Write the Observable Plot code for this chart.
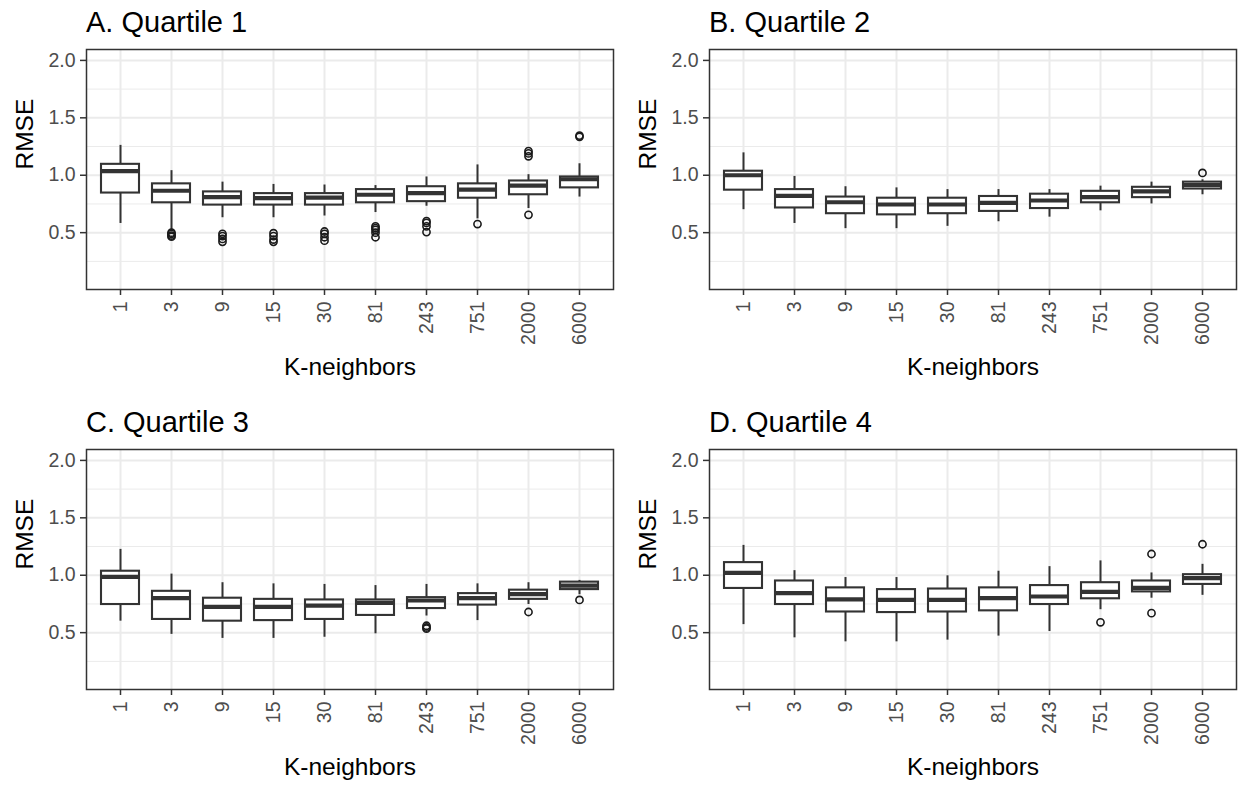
<!DOCTYPE html>
<html>
<head>
<meta charset="utf-8">
<script src="https://cdn.jsdelivr.net/npm/d3@7"></script>
<script src="https://cdn.jsdelivr.net/npm/@observablehq/plot@0.6"></script>
<style>
  body { margin: 0; background: #fff; overflow: hidden; }
  #chart { position: relative; width: 1238px; height: 785px; overflow: hidden;
           font-family: "Liberation Sans", Arial, Helvetica, sans-serif; background: #fff; }
  .panel { position: absolute; width: 623px; height: 400px; }
  .panel svg { max-width: none !important; }
  .title { position: absolute; font-size: 29px; line-height: 1; color: #000; white-space: nowrap; }
</style>
</head>
<body>
<div id="chart"></div>
<script>
// Number of nearest neighbours (x categories)
const kNeighbors = ["1", "3", "9", "15", "30", "81", "243", "751", "2000", "6000"];
const panelTitles = ["A. Quartile 1", "B. Quartile 2", "C. Quartile 3", "D. Quartile 4"];
const yTicks = [0.5, 1.0, 1.5, 2.0];
const yMinorTicks = [0.25, 0.75, 1.25, 1.75];

// Box summaries per K: [lower whisker, Q1, median, Q3, upper whisker]
const quartile1Stats = [
  [0.58, 0.845, 1.035, 1.095, 1.26],
  [0.52, 0.76, 0.865, 0.925, 1.04],
  [0.63, 0.74, 0.81, 0.855, 0.94],
  [0.63, 0.74, 0.80, 0.84, 0.92],
  [0.645, 0.74, 0.805, 0.84, 0.915],
  [0.675, 0.76, 0.83, 0.875, 0.91],
  [0.73, 0.77, 0.845, 0.90, 0.985],
  [0.62, 0.80, 0.875, 0.925, 1.09],
  [0.71, 0.83, 0.91, 0.95, 1.005],
  [0.81, 0.89, 0.965, 0.985, 1.10]
];
const quartile2Stats = [
  [0.70, 0.87, 1.00, 1.035, 1.195],
  [0.58, 0.715, 0.82, 0.875, 0.99],
  [0.535, 0.665, 0.765, 0.81, 0.90],
  [0.535, 0.655, 0.745, 0.80, 0.89],
  [0.555, 0.665, 0.745, 0.80, 0.875],
  [0.595, 0.685, 0.76, 0.815, 0.875],
  [0.635, 0.71, 0.78, 0.835, 0.875],
  [0.69, 0.76, 0.81, 0.86, 0.905],
  [0.75, 0.805, 0.86, 0.895, 0.94],
  [0.83, 0.88, 0.915, 0.94, 0.96]
];
const quartile3Stats = [
  [0.60, 0.745, 0.985, 1.035, 1.225],
  [0.485, 0.615, 0.80, 0.86, 1.01],
  [0.45, 0.60, 0.725, 0.80, 0.935],
  [0.45, 0.605, 0.725, 0.79, 0.925],
  [0.46, 0.615, 0.735, 0.785, 0.92],
  [0.49, 0.65, 0.76, 0.785, 0.91],
  [0.645, 0.71, 0.78, 0.805, 0.92],
  [0.605, 0.74, 0.80, 0.84, 0.925],
  [0.745, 0.79, 0.835, 0.87, 0.935],
  [0.83, 0.875, 0.91, 0.94, 0.955]
];
const quartile4Stats = [
  [0.57, 0.885, 1.02, 1.11, 1.26],
  [0.455, 0.745, 0.845, 0.95, 1.04],
  [0.42, 0.68, 0.79, 0.89, 0.98],
  [0.42, 0.675, 0.785, 0.875, 0.98],
  [0.435, 0.68, 0.785, 0.88, 0.995],
  [0.47, 0.69, 0.80, 0.89, 1.035],
  [0.51, 0.745, 0.815, 0.91, 1.075],
  [0.70, 0.795, 0.855, 0.935, 1.125],
  [0.80, 0.855, 0.89, 0.95, 1.02],
  [0.825, 0.92, 0.975, 1.005, 1.095]
];

// Outlying RMSE values: [K, RMSE]
const quartile1Outliers = [
  ["3", 0.50], ["3", 0.49], ["3", 0.475], ["3", 0.465],
  ["9", 0.49], ["9", 0.47], ["9", 0.445], ["9", 0.42],
  ["15", 0.495], ["15", 0.47], ["15", 0.44], ["15", 0.42],
  ["30", 0.51], ["30", 0.49], ["30", 0.46], ["30", 0.43],
  ["81", 0.555], ["81", 0.54], ["81", 0.525], ["81", 0.50], ["81", 0.46],
  ["243", 0.60], ["243", 0.585], ["243", 0.555], ["243", 0.505],
  ["751", 0.575],
  ["2000", 1.21], ["2000", 1.19], ["2000", 1.165], ["2000", 0.655],
  ["6000", 1.345], ["6000", 1.335]
];
const quartile2Outliers = [["6000", 1.02]];
const quartile3Outliers = [
  ["243", 0.56], ["243", 0.545], ["243", 0.535],
  ["2000", 0.68], ["6000", 0.785]
];
const quartile4Outliers = [["751", 0.59], ["2000", 1.185], ["2000", 0.67], ["6000", 1.27]];

const panelStats = [quartile1Stats, quartile2Stats, quartile3Stats, quartile4Stats];
const panelOutliers = [quartile1Outliers, quartile2Outliers, quartile3Outliers, quartile4Outliers];

const FONT = '"Liberation Sans", Arial, Helvetica, sans-serif';
const INK = "#333333";
const GRID = "#EBEBEB";
const PANEL_W = 623, PANEL_H = 400;
const M = {left: 86, right: 10, top: 49, bottom: 111};

function boxPanel(stats, outliers) {
  const boxes = kNeighbors.map((k, i) => ({
    k, lo: stats[i][0], q1: stats[i][1], med: stats[i][2], q3: stats[i][3], hi: stats[i][4]
  }));
  const points = outliers.map(([k, v]) => ({k, v}));
  return Plot.plot({
    width: PANEL_W,
    height: PANEL_H,
    marginLeft: M.left,
    marginRight: M.right,
    marginTop: M.top,
    marginBottom: M.bottom,
    style: {fontFamily: FONT, background: "transparent", overflow: "visible", maxWidth: "none"},
    x: {type: "band", domain: kNeighbors, paddingInner: 0.25, paddingOuter: 0.225},
    y: {domain: [0.005, 2.095]},
    marks: [
      Plot.gridY(yMinorTicks, {stroke: GRID, strokeOpacity: 1, strokeWidth: 1}),
      Plot.gridY(yTicks, {stroke: GRID, strokeOpacity: 1, strokeWidth: 2}),
      Plot.gridX(kNeighbors, {stroke: GRID, strokeOpacity: 1, strokeWidth: 2}),
      Plot.ruleX(boxes, {x: "k", y1: "lo", y2: "hi", stroke: INK, strokeWidth: 2}),
      Plot.barY(boxes, {x: "k", y1: "q1", y2: "q3", fill: "white", stroke: INK, strokeWidth: 2.1}),
      Plot.tickY(boxes, {x: "k", y: "med", stroke: INK, strokeWidth: 4.2}),
      Plot.dot(points, {x: "k", y: "v", r: 3.6, fill: "none", stroke: "#1a1a1a", strokeWidth: 1.6}),
      Plot.frame({stroke: INK, strokeWidth: 1.5}),
      Plot.axisY(yTicks, {
        tickFormat: d3.format(".1f"), tickSize: 6, tickPadding: 5,
        stroke: INK, strokeWidth: 1.5, fill: "#4D4D4D", fontSize: 19.5, label: null
      }),
      Plot.axisX({
        tickRotate: -90, tickSize: 6, tickPadding: 6, textAnchor: "end", lineAnchor: "middle",
        stroke: INK, strokeWidth: 1.5, fill: "#4D4D4D", fontSize: 19.5, label: null
      }),
      Plot.text(["RMSE"], {
        text: d => d, frameAnchor: "left", dx: -61, rotate: -90,
        fontSize: 24.5, fill: "#000", lineAnchor: "middle"
      }),
      Plot.text(["K-neighbors"], {
        text: d => d, frameAnchor: "bottom", dy: 78,
        fontSize: 24.5, fill: "#000", lineAnchor: "middle"
      })
    ]
  });
}

const chart = document.getElementById("chart");
const offsets = [[0, 0], [623, 0], [0, 400], [623, 400]];
panelTitles.forEach((title, i) => {
  const [ox, oy] = offsets[i];
  const wrap = document.createElement("div");
  wrap.className = "panel";
  wrap.style.left = ox + "px";
  wrap.style.top = oy + "px";
  wrap.appendChild(boxPanel(panelStats[i], panelOutliers[i]));
  chart.appendChild(wrap);

  const t = document.createElement("div");
  t.className = "title";
  t.textContent = title;
  t.style.left = (ox + M.left) + "px";
  t.style.top = (oy + 8) + "px";
  chart.appendChild(t);
});
</script>
</body>
</html>
